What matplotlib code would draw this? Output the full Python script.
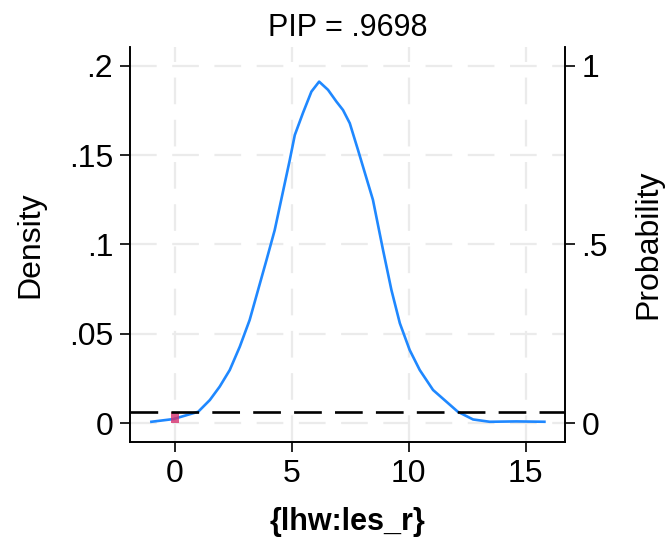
import numpy as np
import matplotlib.pyplot as plt

plt.rcParams['font.family'] = ['Liberation Sans', 'DejaVu Sans']

# density estimate
xs = [-1.0, -0.07, 1.0, 1.5, 1.92, 2.35, 2.78, 3.2, 3.56, 3.92, 4.27, 4.91, 5.13,
      5.48, 5.84, 6.17, 6.55, 6.91, 7.19, 7.48, 7.83, 8.47, 8.9, 9.26, 9.62,
      10.04, 10.47, 11.04, 12.1, 12.75, 13.46, 14.6, 15.8]
dens = [0.0007, 0.0022, 0.0063, 0.0129, 0.0204, 0.0297, 0.0428, 0.0577, 0.0745,
        0.0913, 0.108, 0.147, 0.1613, 0.1737, 0.1856, 0.1912, 0.1866, 0.1800,
        0.1753, 0.1679, 0.153, 0.125, 0.097, 0.0745, 0.0559, 0.0409, 0.0297,
        0.0185, 0.0063, 0.002, 0.0007, 0.0009, 0.0007]
pip = 0.9698
xticks = [0, 5, 10, 15]
yticks = [0, 0.05, 0.1, 0.15, 0.2]
ylabels = ['0', '.05', '.1', '.15', '.2']
pticks = [0, 0.5, 1]
plabels = ['0', '.5', '1']

fig = plt.figure(figsize=(6.66, 5.37), dpi=100)
ax = fig.add_axes([0.195, 0.177, 0.653, 0.7355])
ax2 = ax.twinx()

ax.set_xlim(-1.92, 16.67)
ax.set_ylim(-0.0106, 0.2106)
ax2.set_ylim(-0.053, 1.053)

grid_kw = dict(color='#ebebeb', lw=1.6, ls=(0, (12, 7)), zorder=0)
for t in xticks:
    ax.axvline(t, **grid_kw)
for t in yticks:
    ax.axhline(t, **grid_kw)

ax.plot(xs, dens, color='#1f88ff', lw=1.9, zorder=3)
ax2.bar([0], [1 - pip], width=0.33, color='#d6306e', alpha=0.8, zorder=2)
ax2.axhline(1 - pip, color='black', lw=1.9, ls=(0, (10.5, 5)), zorder=4)

ax.set_xticks(xticks)
ax.set_xticklabels([str(t) for t in xticks])
ax.set_yticks(yticks)
ax.set_yticklabels(ylabels)
ax2.set_yticks(pticks)
ax2.set_yticklabels(plabels)

for a in (ax, ax2):
    a.spines['top'].set_visible(False)
    for s in ('left', 'right', 'bottom'):
        a.spines[s].set_linewidth(1.2)
    a.tick_params(labelsize=23, length=7, width=1.2, direction='out', pad=5)

ax.set_ylabel('Density', fontsize=23, labelpad=17)
ax2.set_ylabel('Probability', fontsize=23, labelpad=18)
ax.set_xlabel('{lhw:les_r}', fontsize=22, fontweight='bold', labelpad=13)
ax.set_title('PIP = .9698', fontsize=22, pad=8)

fig.savefig('out.png', dpi=100)
